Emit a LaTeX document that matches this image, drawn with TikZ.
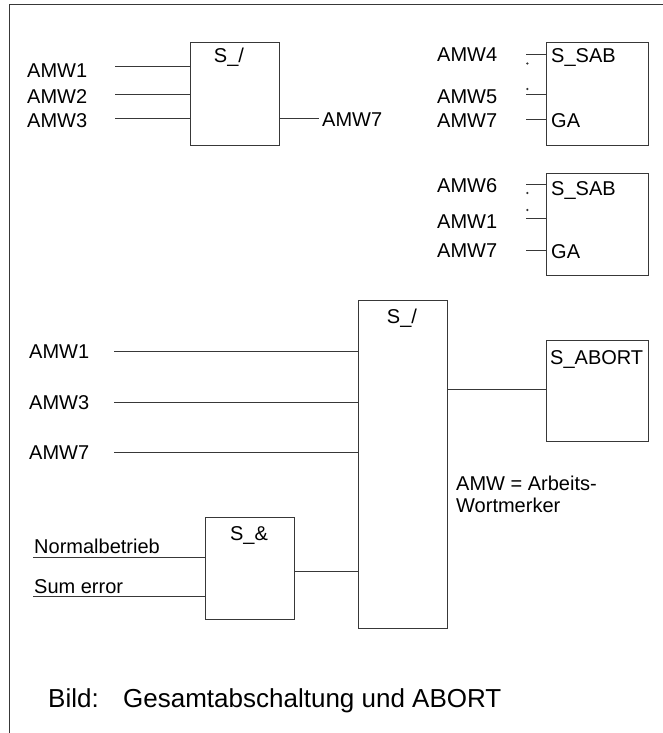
\documentclass[tikz,border=0pt]{standalone}
\usepackage{fontspec}
\setmainfont{Liberation Sans}
\begin{document}
\begin{tikzpicture}[x=1pt,y=-1pt,
  ln/.style={line width=1pt, draw=black!78},
  blk/.style={ln, fill=white, inner sep=0pt},
  lbl/.style={font=\fontsize{20}{24}\selectfont, anchor=base west, inner sep=0pt},
  ttl/.style={font=\fontsize{20}{24}\selectfont, anchor=base, inner sep=0pt},
  captxt/.style={font=\fontsize{26}{30}\selectfont, anchor=base west, inner sep=0pt},
  dotm/.style={fill=black!80, circle, inner sep=0pt, minimum size=2.4pt}]
\useasboundingbox (0,0) rectangle (663,733);
% frame
\coordinate (fTL) at (9,5);
\coordinate (fTR) at (663,5);
\coordinate (fBL) at (9,733);
\draw[ln] (fBL) -- (fTL) -- (fTR);

% ---------- top-left S_/ block ----------
\node[blk, minimum width=89pt, minimum height=102pt] (or1) at (234.5,94) {};
\node[ttl] (or1t) at (229,63) {S\_/};
\node[lbl] (a1) at (27,78) {AMW1};
\node[lbl] (a2) at (27,103) {AMW2};
\node[lbl] (a3) at (27,128) {AMW3};
\node[lbl] (a7) at (322,127) {AMW7};
\coordinate (i1) at (115,67);
\coordinate (i2) at (115,95);
\coordinate (i3) at (115,119);
\coordinate (o1) at (319,119);
\draw[ln] (i1) -- (i1 -| or1.west);
\draw[ln] (i2) -- (i2 -| or1.west);
\draw[ln] (i3) -- (i3 -| or1.west);
\draw[ln] (o1 -| or1.east) -- (o1);

% ---------- S_SAB block 1 ----------
\node[blk, minimum width=102pt, minimum height=102pt] (sab1) at (597,94) {};
\node[lbl] (sab1t) at (551,63) {S\_SAB};
\node[lbl] (sab1g) at (551,128) {GA};
\node[lbl] (b4) at (437,62) {AMW4};
\node[lbl] (b5) at (437,104) {AMW5};
\node[lbl] (b7) at (437,128) {AMW7};
\coordinate (s1a) at (526,55);
\coordinate (s1b) at (526,95);
\coordinate (s1c) at (526,120);
\draw[ln] (s1a) -- (s1a -| sab1.west);
\draw[ln] (s1b) -- (s1b -| sab1.west);
\draw[ln] (s1c) -- (s1c -| sab1.west);
\node[dotm] (d1) at (527.3,63.5) {};
\node[dotm] (d2) at (527.3,89) {};

% ---------- S_SAB block 2 ----------
\node[blk, minimum width=102pt, minimum height=102pt] (sab2) at (597,224) {};
\node[lbl] (sab2t) at (551,195) {S\_SAB};
\node[lbl] (sab2g) at (551,258) {GA};
\node[lbl] (c6) at (437,192) {AMW6};
\node[lbl] (c1) at (437,228) {AMW1};
\node[lbl] (c7) at (437,257) {AMW7};
\coordinate (s2a) at (526,184);
\coordinate (s2b) at (526,218);
\coordinate (s2c) at (526,250);
\draw[ln] (s2a) -- (s2a -| sab2.west);
\draw[ln] (s2b) -- (s2b -| sab2.west);
\draw[ln] (s2c) -- (s2c -| sab2.west);
\node[dotm] (d3) at (527.3,193) {};
\node[dotm] (d4) at (527.3,210) {};

% ---------- big S_/ block ----------
\node[blk, minimum width=89pt, minimum height=328pt] (or2) at (402.5,464) {};
\node[ttl] (or2t) at (402,323) {S\_/};
\node[lbl] (e1) at (29,358) {AMW1};
\node[lbl] (e3) at (29,409) {AMW3};
\node[lbl] (e7) at (29,459) {AMW7};
\coordinate (j1) at (114,351);
\coordinate (j3) at (114,402);
\coordinate (j7) at (114,452);
\draw[ln] (j1) -- (j1 -| or2.west);
\draw[ln] (j3) -- (j3 -| or2.west);
\draw[ln] (j7) -- (j7 -| or2.west);

% ---------- S_ABORT ----------
\node[blk, minimum width=102pt, minimum height=101pt] (abort) at (597,390.5) {};
\node[lbl] (abortt) at (550,364) {S\_ABORT};
\coordinate (ko) at (447,389);
\draw[ln] (ko -| or2.east) -- (ko -| abort.west);

% note
\node[lbl] (n1) at (456,490) {AMW = Arbeits-};
\node[lbl] (n2) at (456,512) {Wortmerker};

% ---------- S_& block ----------
\node[blk, minimum width=89pt, minimum height=102pt] (and1) at (249.5,568) {};
\node[ttl] (and1t) at (249,540) {S\_\&};
\node[lbl] (nb) at (34,553) {Normalbetrieb};
\node[lbl] (se) at (34,593) {Sum error};
\coordinate (k1) at (33,557);
\coordinate (k2) at (33,596);
\draw[ln] (k1) -- (k1 -| and1.west);
\draw[ln] (k2) -- (k2 -| and1.west);
\coordinate (k3) at (294,571);
\draw[ln] (k3 -| and1.east) -- (k3 -| or2.west);

% caption
\node[captxt] (bild) at (48,707) {Bild:};
\node[captxt] (capt) at (123,707) {Gesamtabschaltung und ABORT};
\end{tikzpicture}
\end{document}
